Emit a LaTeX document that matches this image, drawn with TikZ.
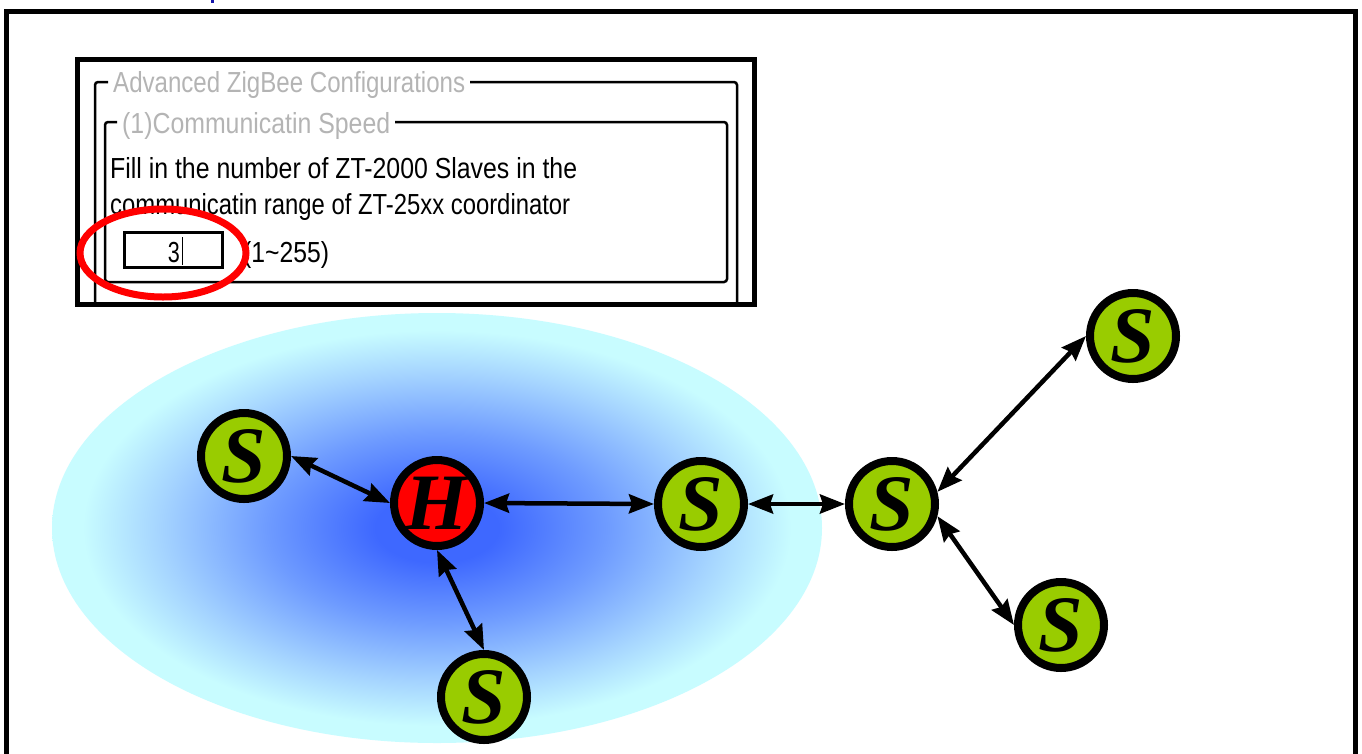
\documentclass[tikz,border=0pt]{standalone}
\usepackage{fontspec}
\setmainfont{Liberation Sans}
\newfontfamily\letterfont{Liberation Serif}
\usepackage{graphicx}
\usetikzlibrary{arrows.meta}
\definecolor{nodegreen}{RGB}{153,204,0}
\definecolor{boxgray}{RGB}{180,180,180}
\definecolor{blobA}{RGB}{62,104,255}
\definecolor{blobB}{RGB}{110,155,255}
\definecolor{blobC}{RGB}{165,212,255}
\definecolor{blobD}{RGB}{200,252,255}
\definecolor{topblue}{RGB}{20,20,170}
\pgfdeclareradialshading{blob}{\pgfpoint{0bp}{0bp}}{color(0bp)=(blobA); color(4bp)=(blobA); color(11bp)=(blobB); color(18bp)=(blobC); color(23bp)=(blobD); color(50bp)=(blobD)}
\newcommand\fitw[2]{\resizebox{#1}{\height}{#2}}
\begin{document}
\begin{tikzpicture}[x=1pt,y=-1pt,
  uitext/.style={anchor=base west, inner sep=0pt, font=\fontsize{29}{29}\selectfont},
  grp/.style={line width=2.5pt, rounded corners=3pt},
  inputbox/.style={draw, line width=2.5pt, fill=white, minimum width=98pt, minimum height=35pt, inner sep=0pt},
  netnode/.style={circle, draw=black, line width=8pt, minimum size=86pt, inner sep=0pt,
     font=\letterfont\bfseries\itshape\fontsize{80}{80}\selectfont},
  slave/.style={netnode, fill=nodegreen},
  host/.style={netnode, fill=red},
  link/.style={line width=4.5pt, {Stealth[length=25pt,width=19pt,inset=3pt]}-{Stealth[length=25pt,width=19pt,inset=3pt]}}
]
\useasboundingbox (0,0) rectangle (1362,753);
\fill[white] (0,0) rectangle (1362,753);
% tiny cut-off glyph at top
\fill[topblue] (211,0) rectangle (214,3);
% outer frame
\draw[line width=5pt] (6,780) -- (6,11.5) -- (1355.5,11.5) -- (1355.5,780);
% range ellipse
\shade[shading=blob] (437,528) ellipse [x radius=385, y radius=215];
% screenshot box
\draw[line width=5pt, fill=white] (77.5,59.5) rectangle (754.5,304.5);
\draw[grp] (108,82) -- (95,82) -- (95,302);
\draw[grp] (470,82) -- (737,82) -- (737,302);
\draw[grp] (117,122) -- (105,122) -- (105,282) -- (727,282) -- (727,122) -- (395,122);
\node[uitext, text=boxgray] (t1) at (113,92) {\fitw{352pt}{Advanced ZigBee Configurations}};
\node[uitext, text=boxgray] (t2) at (122,133) {\fitw{268pt}{(1)Communicatin Speed}};
\node[uitext] (t3) at (110,178) {\fitw{467pt}{Fill in the number of ZT-2000 Slaves in the}};
\node[uitext] (t4) at (110,214) {\fitw{460pt}{communicatin range of ZT-25xx coordinator}};
\node[inputbox] (inp) at (173.5,250) {};
\node[uitext, anchor=base east] (val) at (180,262) {\fitw{12pt}{3}};
\draw[line width=1.5pt] (182.5,237) -- (182.5,265);
\node[uitext] (rng) at (243,262) {\fitw{86pt}{(1\textasciitilde 255)}};
\draw[red, line width=7pt] (163,253) ellipse [x radius=83, y radius=44];
% network nodes
\node[slave] (S1) at (244,456) {S};
\node[host]  (H)  at (437,503) {H};
\node[slave] (S2) at (701,504) {S};
\node[slave] (S3) at (892,504) {S};
\node[slave] (S4) at (1133,336) {S};
\node[slave] (S5) at (1061,625) {S};
\node[slave] (S6) at (484,697) {S};
\draw[link] (S1.east) -- (H.west);
\draw[link] (H.east) -- (S2.west);
\draw[link] (H.south) -- (S6.north);
\draw[link] (S2.east) -- (S3.west);
\draw[link] (S3.15) -- (S4.west);
\draw[link] (S3.-15) -- (S5.west);
\end{tikzpicture}
\end{document}
